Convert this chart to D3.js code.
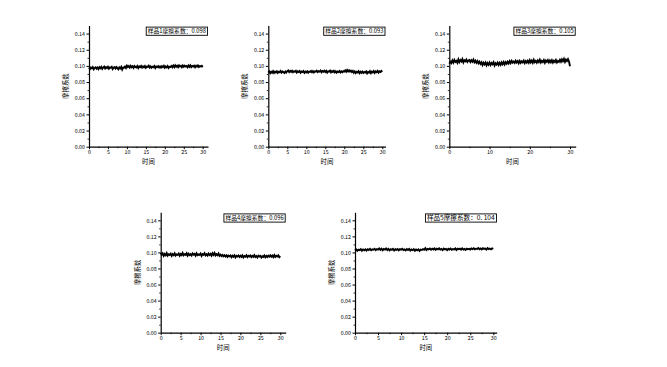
<!DOCTYPE html>
<html><head><meta charset="utf-8">
<script src="https://cdn.jsdelivr.net/npm/d3@7"></script>
<style>body{margin:0;background:#fff}svg{display:block}</style>
</head><body>
<script>
// ---- DATA ----
const yLabel = "摩擦系数";
const xLabel = "时间";
const legendLabels = ["样品1摩擦系数：0.098","样品2摩擦系数：0.093","样品3摩擦系数：0.105","样品4摩擦系数：0.096","样品5摩擦系数：0. 104"];
const yTicks = [0.00,0.02,0.04,0.06,0.08,0.10,0.12,0.14];
const xTicksA = [0,5,10,15,20,25,30];
const xTicksB = [0,10,20,30];

const series1 = [0.0978,0.0962,0.0981,0.0969,0.0985,0.0958,0.0976,0.0983,0.0965,0.0979,
0.0960,0.0984,0.0971,0.0987,0.0963,0.0980,0.0992,0.0968,0.0985,0.0974,
0.0990,0.0966,0.0982,0.0977,0.0988,0.0961,0.0979,0.0984,0.0967,0.0986,
0.0972,0.0958,0.0981,0.0969,0.0987,0.0955,0.0980,
0.0978,0.0992,0.0975,0.1003,0.0986,0.0998,0.0979,0.1001,0.0984,0.0996,
0.0977,0.0999,0.0988,0.0981,0.0997,0.0974,0.0993,0.0985,0.1000,0.0979,
0.0994,0.0983,0.0998,0.0976,0.0991,0.0987,0.1002,0.0980,0.0995,0.0978,
0.0990,0.0984,0.0999,0.0973,0.0992,0.0986,0.0997,0.0981,0.0994,0.0979,
0.0996,0.0985,0.1001,0.0977,0.0993,0.0982,0.0998,0.0975,0.0990,0.0988,
0.1000,0.0983,
0.1004,0.0986,0.1008,0.0990,0.1002,0.0985,0.1006,0.0993,0.1001,0.0984,
0.1005,0.0989,0.1003,0.0991,0.0999,0.0983,0.1004,0.0988,0.1007,0.0986,
0.1000,0.0992,0.1003,0.0984,0.1001,0.0990,0.1005,0.0987,0.0998,0.0993,
0.1002,0.0985];
const series2 = [0.0918,0.0932,0.0910,0.0927,0.0915,0.0935,0.0912,0.0929,0.0920,0.0933,
0.0914,0.0928,0.0922,0.0937,0.0916,0.0930,0.0924,0.0913,0.0931,0.0919,
0.0936,0.0945,0.0923,0.0938,0.0926,0.0940,0.0921,0.0934,0.0927,0.0939,
0.0918,0.0933,0.0925,0.0937,0.0916,0.0931,0.0923,0.0935,0.0914,0.0929,
0.0920,0.0934,0.0917,0.0930,0.0926,0.0938,0.0921,0.0935,0.0919,0.0932,
0.0928,0.0941,0.0924,0.0936,0.0930,0.0943,0.0922,0.0937,0.0927,0.0940,
0.0925,0.0938,0.0918,0.0933,0.0929,0.0942,0.0921,0.0935,0.0926,0.0939,
0.0920,0.0934,0.0917,0.0931,0.0924,0.0937,0.0919,0.0933,0.0922,0.0936,
0.0930,0.0944,0.0927,0.0948,0.0932,0.0946,0.0929,0.0941,0.0924,0.0938,
0.0916,0.0931,0.0912,0.0928,0.0919,0.0933,0.0910,0.0927,0.0915,0.0930,
0.0913,0.0926,0.0918,0.0932,0.0908,0.0925,0.0916,0.0934,0.0911,0.0929,
0.0920,0.0936,0.0914,0.0931,0.0922,0.0937,0.0917,0.0933,0.0924,0.0938,
0.0926];
const series3 = [0.1028,0.1052,0.1035,0.1068,0.1041,0.1075,0.1049,0.1062,0.1038,0.1080,
0.1047,0.1072,0.1055,0.1083,0.1044,0.1070,0.1058,0.1079,0.1050,0.1066,
0.1073,0.1048,0.1069,0.1052,0.1078,0.1045,0.1064,0.1039,0.1060,0.1032,
0.1051,0.1026,0.1044,0.1010,0.1038,0.1018,0.1041,0.1008,0.1035,0.1015,
0.1042,0.1012,0.1036,0.1020,0.1045,0.1006,0.1033,0.1017,0.1040,0.1011,
0.1037,0.1014,0.1043,0.1022,0.1048,0.1019,0.1046,0.1028,0.1052,0.1030,
0.1058,0.1035,0.1062,0.1040,0.1055,0.1037,0.1064,0.1042,0.1059,0.1033,
0.1061,0.1038,0.1057,0.1044,0.1066,0.1036,0.1060,0.1041,0.1063,0.1039,
0.1070,0.1043,0.1065,0.1038,0.1074,0.1046,0.1061,0.1040,0.1068,0.1049,
0.1076,0.1042,0.1063,0.1047,0.1071,0.1039,0.1066,0.1050,0.1072,0.1044,
0.1067,0.1045,0.1070,0.1041,0.1064,0.1048,0.1073,0.1043,0.1062,0.1050,
0.1075,0.1052,0.1081,0.1058,0.1086,0.1049,0.1078,0.1061,0.1084,0.1055,
0.0995];
const series4 = [0.0995,0.0972,0.0988,0.0958,0.0980,0.0965,0.0991,0.0960,0.0977,0.0969,
0.0984,0.0957,0.0979,0.0966,0.0989,0.0962,0.0976,0.0971,0.0986,0.0959,
0.0981,0.0968,0.0993,0.0964,0.0978,0.0970,0.0990,0.0961,0.0983,0.0967,
0.0979,0.0963,0.0987,0.0972,0.0982,0.0960,0.0988,0.0966,0.0975,0.0969,
0.0985,0.0958,0.0980,0.0971,0.0991,0.0964,0.0977,0.0962,0.0986,0.0968,
0.0983,0.0961,0.0989,0.0970,0.0994,0.0963,0.0978,0.0966,0.0987,0.0959,
0.0972,0.0955,0.0968,0.0952,0.0966,0.0949,0.0963,0.0944,0.0960,0.0951,
0.0962,0.0940,0.0958,0.0946,0.0964,0.0938,0.0957,0.0948,0.0961,0.0943,
0.0959,0.0945,0.0963,0.0939,0.0956,0.0947,0.0965,0.0942,0.0958,0.0950,
0.0961,0.0941,0.0957,0.0946,0.0966,0.0944,0.0955,0.0938,0.0960,0.0949,
0.0958,0.0937,0.0953,0.0945,0.0962,0.0940,0.0956,0.0943,0.0959,0.0948,
0.0964,0.0946,0.0960,0.0941,0.0967,0.0944,0.0958,0.0950,0.0963,0.0942,
0.0955];
const series5 = [0.1025,0.1038,0.1020,0.1035,0.1028,0.1041,0.1022,0.1037,0.1026,0.1039,
0.1023,0.1040,0.1031,0.1044,0.1027,0.1038,0.1033,0.1046,0.1029,0.1042,
0.1036,0.1050,0.1032,0.1047,0.1028,0.1043,0.1035,0.1049,0.1030,0.1044,
0.1026,0.1040,0.1033,0.1045,0.1024,0.1039,0.1031,0.1043,0.1027,0.1041,
0.1034,0.1046,0.1029,0.1038,0.1025,0.1042,0.1030,0.1044,0.1023,0.1037,
0.1028,0.1040,0.1021,0.1036,0.1026,0.1039,0.1019,0.1035,0.1030,0.1042,
0.1034,0.1053,0.1031,0.1045,0.1038,0.1048,0.1033,0.1046,0.1036,0.1050,
0.1032,0.1047,0.1039,0.1051,0.1035,0.1044,0.1030,0.1048,0.1037,0.1043,
0.1029,0.1045,0.1036,0.1049,0.1033,0.1042,0.1038,0.1050,0.1031,0.1046,
0.1040,0.1048,0.1034,0.1051,0.1037,0.1045,0.1032,0.1047,0.1039,0.1044,
0.1036,0.1049,0.1041,0.1053,0.1038,0.1047,0.1043,0.1055,0.1040,0.1050,
0.1037,0.1052,0.1044,0.1048,0.1035,0.1054,0.1042,0.1049,0.1038,0.1051,
0.1045];
const allSeries = [series1, series2, series3, series4, series5];
const tMax = 30;

// ---- LAYOUT (pixels) ----
const panels = [
  {left:89,   x30:202.7, end:208,   top:25.5,  bottom:146.7, xt:xTicksA, lf:5.8},
  {left:268.3,x30:382.3, end:385.5, top:25.5,  bottom:146.7, xt:xTicksA, lf:5.8},
  {left:449.3,x30:570,   end:575.7, top:25.5,  bottom:146.7, xt:xTicksB, lf:5.8},
  {left:160.7,x30:280.3, end:285.7, top:212.3, bottom:332.7, xt:xTicksA, lf:5.8},
  {left:355,  x30:493.3, end:496.7, top:212.3, bottom:332.7, xt:xTicksA, lf:6.6}
];

const svg = d3.select("body").append("svg").attr("width",667).attr("height",367);
const font = "'Noto Sans CJK SC', 'DejaVu Sans', sans-serif";

panels.forEach((p, k) => {
  const data = allSeries[k];
  const xMax = tMax * (p.end - p.left) / (p.x30 - p.left);
  const x = d3.scaleLinear().domain([0, xMax]).range([p.left, p.end]);
  const y = d3.scaleLinear().domain([0, 0.15]).range([p.bottom, p.top]);
  const g = svg.append("g");

  // minor ticks
  const yMinor = d3.range(0.01, 0.15, 0.02);
  g.append("g").attr("transform",`translate(${p.left},0)`)
    .call(d3.axisLeft(y).tickValues(yMinor).tickSize(1.5).tickFormat(""))
    .call(a=>a.select(".domain").remove())
    .selectAll("line").attr("stroke","#000").attr("stroke-width",0.8);
  const step = p.xt[1]-p.xt[0];
  const xMinor = p.xt.slice(0,-1).map(v=>v+step/2);
  g.append("g").attr("transform",`translate(0,${p.bottom})`)
    .call(d3.axisBottom(x).tickValues(xMinor).tickSize(1.5).tickFormat(""))
    .call(a=>a.select(".domain").remove())
    .selectAll("line").attr("stroke","#000").attr("stroke-width",0.8);

  // y axis
  const ya = g.append("g").attr("transform",`translate(${p.left},0)`)
    .call(d3.axisLeft(y).tickValues(yTicks).tickSize(2.5).tickSizeOuter(0).tickPadding(1.5).tickFormat(d3.format(".2f")));
  ya.select(".domain").attr("stroke","#000").attr("stroke-width",1.2);
  ya.selectAll("line").attr("stroke","#000").attr("stroke-width",1);
  ya.selectAll("text").attr("font-family",font).attr("font-size",5.3).attr("fill","#000");

  // x axis
  const xa = g.append("g").attr("transform",`translate(0,${p.bottom})`)
    .call(d3.axisBottom(x).tickValues(p.xt).tickSize(2.5).tickSizeOuter(0).tickPadding(1.5));
  xa.select(".domain").attr("stroke","#000").attr("stroke-width",1.2);
  xa.selectAll("line").attr("stroke","#000").attr("stroke-width",1);
  xa.selectAll("text").attr("font-family",font).attr("font-size",5.3).attr("fill","#000");

  // line
  const line = d3.line().x((d,i)=>x(i*tMax/(data.length-1))).y(d=>y(d));
  g.append("path").datum(data).attr("d",line)
    .attr("fill","none").attr("stroke","#000").attr("stroke-width",1.9).attr("stroke-linejoin","miter");

  // axis labels
  g.append("text").attr("transform",`translate(${p.left-21},${(p.top+p.bottom)/2}) rotate(-90)`)
    .attr("text-anchor","middle").attr("font-family",font).attr("font-size",6.4).attr("fill","#000")
    .text(yLabel);
  g.append("text").attr("x",(p.left+p.end)/2).attr("y",p.bottom+17)
    .attr("text-anchor","middle").attr("font-family",font).attr("font-size",6.4).attr("fill","#000")
    .text(xLabel);

  // legend
  const rect = g.append("rect");
  const lt = g.append("text").attr("x",p.end-2).attr("y",p.top+7.6)
    .attr("text-anchor","end").attr("font-family",font).attr("font-size",p.lf).attr("fill","#000")
    .text(legendLabels[k]);
  const bb = lt.node().getBBox();
  rect.attr("x",bb.x-1.5).attr("y",p.top+1.6).attr("width",bb.width+3).attr("height",8.2)
    .attr("fill","#fff").attr("stroke","#000").attr("stroke-width",0.9);
});
</script>
</body></html>
